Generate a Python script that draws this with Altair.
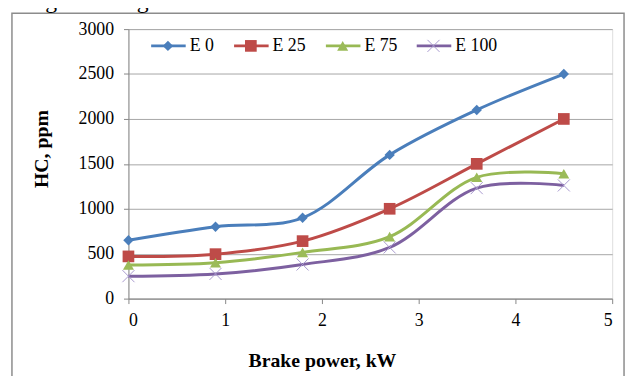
import altair as alt
import pandas as pd

# ---- data ----
brake_power = [0, 0.9, 1.8, 2.7, 3.6, 4.5]
series_names = ["E 0", "E 25", "E 75", "E 100"]
hc_e0 = [650, 800, 900, 1600, 2100, 2500]
hc_e25 = [470, 495, 640, 1000, 1500, 2000]
hc_e75 = [375, 400, 515, 690, 1350, 1390]
hc_e100 = [250, 275, 380, 570, 1230, 1260]
x_ticks = [0, 1, 2, 3, 4, 5]
y_ticks = [0, 500, 1000, 1500, 2000, 2500, 3000]
caption = "Higher dosage of ethanol resulted into lowered HC emissions"

series_values = [hc_e0, hc_e25, hc_e75, hc_e100]
line_colors = ["#4A7EBB", "#BE4B48", "#98B954", "#7D60A0"]
marker_colors = ["#4A7EBB", "#BE4B48", "#9BBB59", "#A899CE"]
x_path = "M-1,-1L1,1M-1,1L1,-1"
shapes = ["diamond", "square", "triangle-up", x_path]
sizes = [110, 140, 125, 150]

rows = []
for name, vals in zip(series_names, series_values):
    for x, v in zip(brake_power, vals):
        rows.append({"series": name, "bp": x, "hc": v})
df = pd.DataFrame(rows)

FONT = "Liberation Serif"
W, H = 490, 273

xs = alt.Scale(domain=[0, 5], nice=False)
ys = alt.Scale(domain=[0, 3000], nice=False)

x_enc = alt.X(
    "bp:Q", scale=xs,
    axis=alt.Axis(
        values=x_ticks, format="d", title="Brake power, kW", grid=False,
        domainColor="#868686", tickColor="#868686", tickSize=5,
        labelFont=FONT, labelFontSize=18, labelColor="black", labelPadding=8,
        titleFont=FONT, titleFontSize=20, titleFontWeight="bold", titleColor="black",
        titleX=196, titleY=69, titleBaseline="alphabetic", titleAnchor="middle",
    ),
)
y_enc = alt.Y(
    "hc:Q", scale=ys,
    axis=alt.Axis(
        values=y_ticks, format="d", title="HC, ppm", grid=True, gridColor="#A6A6A6",
        domainColor="#868686", tickColor="#868686", tickSize=5,
        labelFont=FONT, labelFontSize=18, labelColor="black", labelPadding=10,
        titleFont=FONT, titleFontSize=20, titleFontWeight="bold", titleColor="black",
        titleX=-82, titleY=121, titleBaseline="alphabetic", titleAngle=-90,
    ),
)

layers = []
for i, name in enumerate(series_names):
    sub = df[df["series"] == name]
    line = alt.Chart(sub).mark_line(
        interpolate="catmull-rom", strokeWidth=3, color=line_colors[i]
    ).encode(x=x_enc, y=y_enc)
    layers.append(line)
for i, name in enumerate(series_names):
    sub = df[df["series"] == name]
    if i == 3:
        pt = alt.Chart(sub).mark_point(
            shape=shapes[i], size=sizes[i], filled=False,
            stroke=marker_colors[i], strokeWidth=1, opacity=1
        )
    else:
        pt = alt.Chart(sub).mark_point(
            shape=shapes[i], size=sizes[i], filled=True,
            color=marker_colors[i], opacity=1
        )
    layers.append(pt.encode(x=x_enc, y=y_enc))

# ---- hand-made legend (line + marker + label) ----
one = pd.DataFrame({"k": [0]})
leg_line_x = [23, 107, 200, 292]
leg_y = 17
for i, name in enumerate(series_names):
    lx = leg_line_x[i]
    layers.append(
        alt.Chart(one).mark_rule(strokeWidth=3, color=line_colors[i]).encode(
            x=alt.value(lx), x2=alt.value(lx + 35), y=alt.value(leg_y)
        )
    )
    if i == 3:
        mk = alt.Chart(one).mark_point(
            shape=shapes[i], size=sizes[i], filled=False,
            stroke=marker_colors[i], strokeWidth=1, opacity=1
        )
    else:
        mk = alt.Chart(one).mark_point(
            shape=shapes[i], size=sizes[i], filled=True,
            color=marker_colors[i], opacity=1
        )
    layers.append(mk.encode(x=alt.value(lx + 17), y=alt.value(leg_y)))
    layers.append(
        alt.Chart(one).mark_text(
            align="left", baseline="middle", font=FONT, fontSize=18, color="black"
        ).encode(x=alt.value(lx + 39), y=alt.value(leg_y), text=alt.value(name))
    )

# chart frame and the cropped caption above it
layers.append(
    alt.Chart(one).mark_rect(filled=False, stroke="#8C8C8C", strokeWidth=1.5).encode(
        x=alt.value(-118), x2=alt.value(502), y=alt.value(-16), y2=alt.value(365)
    )
)
layers.append(
    alt.Chart(one).mark_text(
        align="center", baseline="alphabetic", font=FONT, fontSize=24, color="black"
    ).encode(x=alt.value(187), y=alt.value(-21), text=alt.value(caption))
)

chart = alt.layer(*layers).properties(
    width=W, height=H,
    autosize=alt.AutoSizeParams(type="none"),
    padding={"left": 122, "top": 19, "right": 15, "bottom": 76},
).configure_view(stroke=None).configure(
    background="white", font=FONT
).configure_axis(labelFont=FONT, titleFont=FONT)

chart.save("out.html", embed_options={"renderer": "svg", "actions": False})
